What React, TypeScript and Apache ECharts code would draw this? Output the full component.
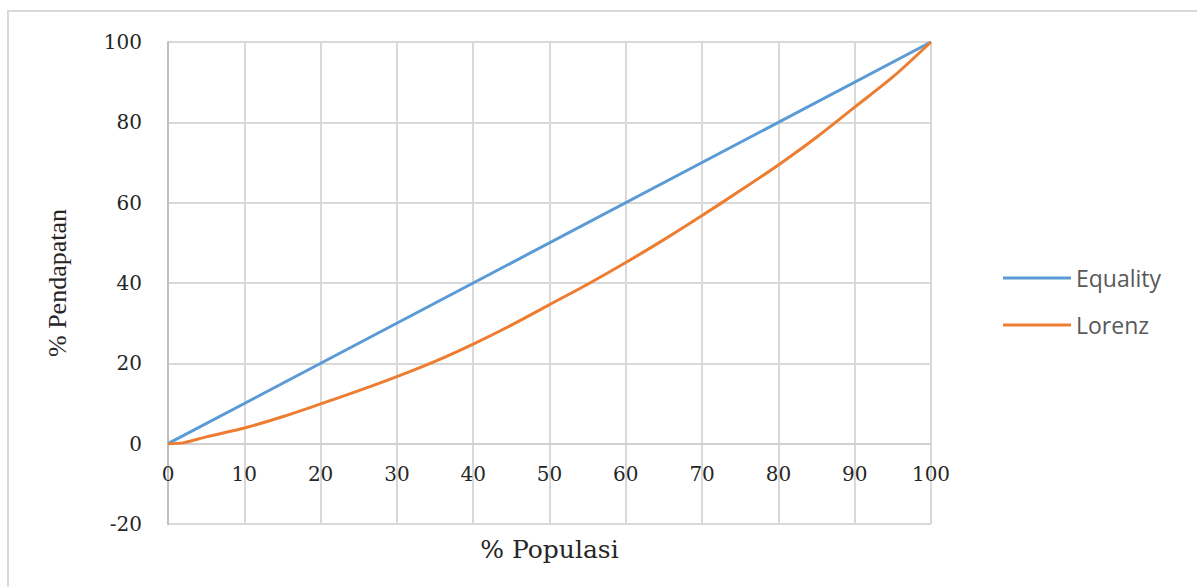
import React, { useEffect, useRef } from "react";
import * as echarts from "echarts";

const xTicks = [0, 10, 20, 30, 40, 50, 60, 70, 80, 90, 100];
const yTicks = [-20, 0, 20, 40, 60, 80, 100];
const equalityX = [0, 100];
const equalityY = [0, 100];
const lorenzX = [0, 2, 5, 10, 15, 20, 25, 30, 35, 40, 45, 50, 55, 60, 65, 70, 75, 80, 85, 90, 95, 100];
const lorenzY = [0, 0.2, 1.7, 3.9, 6.7, 9.9, 13.2, 16.7, 20.5, 24.8, 29.5, 34.6, 39.7, 45.1, 50.8, 56.8, 63, 69.4, 76.3, 83.8, 91.3, 100];
const seriesNames = ["Equality", "Lorenz"];
const xName = "% Populasi";
const yName = "% Pendapatan";

export default function App() {
  const ref = useRef<HTMLDivElement>(null);
  useEffect(() => {
    if (!ref.current) return;
    const chart = echarts.init(ref.current, null, { renderer: "svg" });
    const gridColor = "#d9d9d9";
    const gridTop = 42;
    const gridBottom = 63;
    const plotH = 587 - gridTop - gridBottom;
    const yMin = yTicks[0];
    const yMax = yTicks[yTicks.length - 1];
    const zeroOffset = -((0 - yMin) / (yMax - yMin)) * plotH;
    chart.setOption({
      animation: false,
      backgroundColor: "#ffffff",
      graphic: [
        {
          type: "rect",
          z: -10,
          shape: { x: 8, y: 11, width: 1400, height: 800 },
          style: { fill: "none", stroke: "#d9d9d9", lineWidth: 2 },
          silent: true,
        },
      ],
      grid: { left: 168, right: 266, top: gridTop, bottom: gridBottom, containLabel: false, outerBoundsMode: "none" },
      legend: {
        orient: "vertical",
        left: 998,
        top: 260,
        icon: "rect",
        itemWidth: 68,
        itemHeight: 3,
        itemGap: 21,
        data: seriesNames,
        textStyle: { fontFamily: "Open Sans", fontSize: 23, color: "#595959", lineHeight: 26, padding: [0, 0, 0, 0] },
      },
      xAxis: {
        type: "value",
        position: "bottom",
        offset: zeroOffset,
        min: xTicks[0],
        max: xTicks[xTicks.length - 1],
        interval: 10,
        name: xName,
        nameLocation: "middle",
        nameGap: 93,
        nameMoveOverlap: false,
        nameTextStyle: { fontFamily: "DejaVu Serif", fontSize: 25, color: "#262626" },
        axisLine: { show: true, onZero: false, lineStyle: { color: "#d0d0d0", width: 2 } },
        axisTick: { show: false },
        axisLabel: { fontFamily: "DejaVu Serif", fontSize: 20, color: "#262626", margin: 20 },
        splitLine: { show: true, lineStyle: { color: gridColor, width: 2 } },
      },
      yAxis: {
        type: "value",
        min: yMin,
        max: yMax,
        interval: 20,
        name: yName,
        nameLocation: "middle",
        nameGap: 98,
        nameRotate: 90,
        nameTextStyle: { fontFamily: "Liberation Serif", fontSize: 26, color: "#262626" },
        axisLine: { show: true, onZero: false, lineStyle: { color: "#bfbfbf", width: 2 } },
        axisTick: { show: false },
        axisLabel: { fontFamily: "DejaVu Serif", fontSize: 20, color: "#262626", margin: 26 },
        splitLine: { show: true, lineStyle: { color: gridColor, width: 2 } },
      },
      series: [
        {
          name: seriesNames[0],
          type: "line",
          symbol: "none",
          data: equalityX.map((x, i) => [x, equalityY[i]]),
          lineStyle: { color: "#5b9bd5", width: 3 },
          itemStyle: { color: "#5b9bd5" },
          z: 3,
        },
        {
          name: seriesNames[1],
          type: "line",
          symbol: "none",
          smooth: 0.3,
          data: lorenzX.map((x, i) => [x, lorenzY[i]]),
          lineStyle: { color: "#ed7d31", width: 3 },
          itemStyle: { color: "#ed7d31" },
          z: 4,
        },
      ],
    });
    return () => chart.dispose();
  }, []);
  return (
    <div
      ref={ref}
      style={{ position: "fixed", left: 0, top: 0, width: 1197, height: 587, background: "#fff" }}
    />
  );
}
